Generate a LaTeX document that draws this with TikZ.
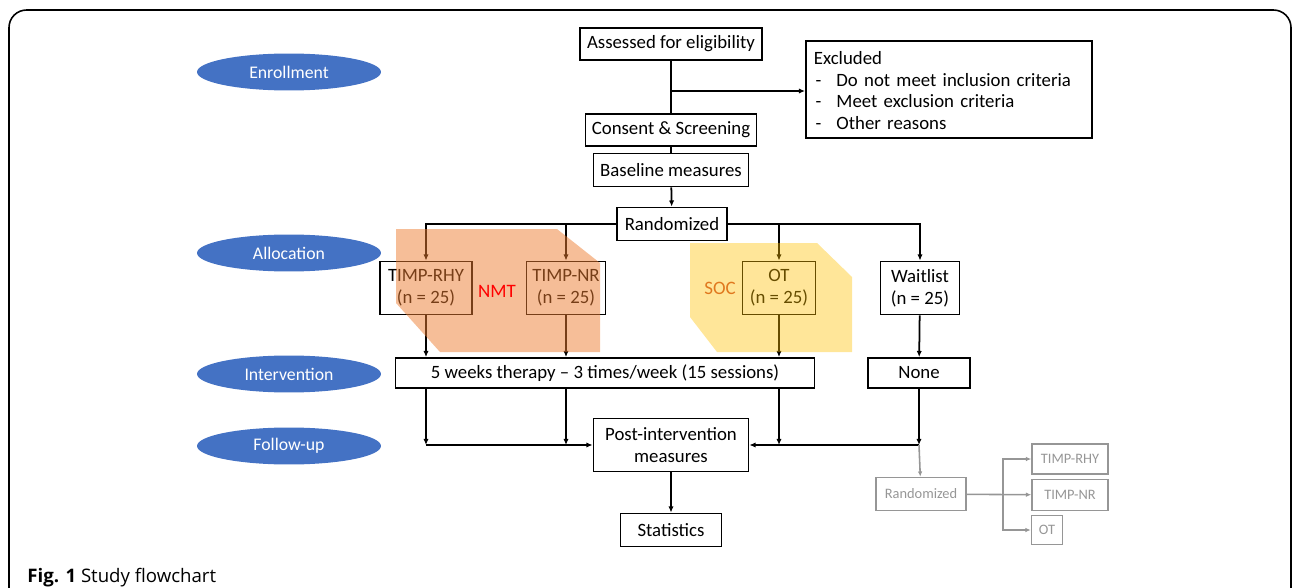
\documentclass[tikz,border=0pt]{standalone}
\usepackage{fontspec}
\setmainfont{Carlito}
\newfontfamily\capfont{Open Sans}
\usetikzlibrary{arrows.meta,shapes.geometric}

\definecolor{stageblue}{RGB}{68,114,196}
\definecolor{nmtorange}{RGB}{237,125,49}
\definecolor{socyellow}{RGB}{255,192,0}
\definecolor{soctext}{RGB}{224,120,30}
\definecolor{ghost}{RGB}{150,150,150}

\tikzset{
    box/.style={draw, line width=1pt, fill=white, inner sep=1pt, align=center,
        font=\fontsize{10.7}{12.5}\selectfont},
    stage/.style={ellipse, fill=stageblue, text=white, inner sep=0pt,
        minimum width=3.68cm, minimum height=0.74cm, font=\fontsize{10.1}{12}\selectfont},
    flow/.style={line width=1pt, -{Latex[length=3.5pt,width=3pt]}},
    link/.style={line width=1pt},
    ghostbox/.style={draw=ghost, text=ghost, line width=0.9pt, inner sep=1pt,
        font=\fontsize{8.2}{9.5}\selectfont},
    ghostflow/.style={draw=ghost, line width=0.9pt, -{Latex[length=3pt,width=2.6pt]}},
}

\begin{document}
\begin{tikzpicture}[x=0.02cm, y=-0.02cm]
    \useasboundingbox (0,0) rectangle (1292,588);

    % Outer frame of the figure
    \draw[line width=0.9pt, rounded corners=10pt] (9,600) -- (9,10) -- (1291,10) -- (1291,600);

    % Stages on the left
    \node[stage] (enroll) at (289,72) {Enrollment};
    \node[stage] (alloc) at (289,253) {Allocation};
    \node[stage] (interv) at (289,374) {Intervention};
    \node[stage] (follow) at (289,446) {Follow-up};

    % Enrollment
    \node[box, minimum width=3.64cm, minimum height=0.64cm] (assess) at (671,44) {Assessed for eligibility};
    \node[box, text width=5.40cm, minimum height=1.94cm, anchor=north west, align=left,
        inner xsep=0.16cm] (excl) at (805,40)
        {\begin{tabular}{@{\hspace{1pt}}l@{\hspace{0.8em}}l@{}}
            \multicolumn{2}{@{}l}{\rule{0pt}{12.2pt}Excluded}\\
            - & Do not meet inclusion criteria\\
            - & Meet exclusion criteria\\
            - & Other reasons
        \end{tabular}};
    \node[box, minimum width=3.42cm, minimum height=0.64cm] (consent) at (671,130) {Consent \& Screening};
    \node[box, minimum width=3.10cm, minimum height=0.66cm] (base) at (671,170) {Baseline measures};

    % Allocation
    \node[box, minimum width=2.20cm, minimum height=0.66cm] (rand) at (672,224) {Randomized};
    \node[box, minimum width=1.84cm, minimum height=1.06cm] (rhy) at (426,288) {TIMP-RHY\\(n = 25)};
    \node[box, minimum width=1.58cm, minimum height=1.06cm] (nr) at (566,288) {TIMP-NR\\(n = 25)};
    \node[box, minimum width=1.46cm, minimum height=1.06cm] (ot) at (779,288) {OT\\(n = 25)};
    \node[box, minimum width=1.58cm, minimum height=1.06cm] (wait) at (920,288) {Waitlist\\(n = 25)};

    % Intervention
    \node[box, minimum width=8.38cm, minimum height=0.60cm] (ther) at (605,373) {5 weeks therapy -- 3 times/week (15 sessions)};
    \node[box, minimum width=2.04cm, minimum height=0.60cm] (none) at (919,373) {None};

    % Follow-up
    \node[box, minimum width=3.10cm, minimum height=1.06cm] (post) at (671,445) {Post-intervention\\measures};
    \node[box, minimum width=2.02cm, minimum height=0.66cm] (stats) at (671,530) {Statistics};

    % Waitlist crossing over
    \node[ghostbox, minimum width=1.80cm, minimum height=0.66cm] (grand) at (921,494) {Randomized};
    \node[ghostbox, minimum width=1.52cm, minimum height=0.60cm] (grhy) at (1070,459) {TIMP-RHY};
    \node[ghostbox, minimum width=1.52cm, minimum height=0.62cm] (gnr) at (1070,495) {TIMP-NR};
    \node[ghostbox, minimum width=0.62cm, minimum height=0.58cm] (got) at (1047,530) {OT};

    % Enrollment connectors
    \coordinate (exclsplit) at (671,91);
    \draw[link] (assess) -- (consent);
    \draw[flow] (exclsplit) -- (exclsplit -| excl.west);
    \draw[link] (consent) -- (base);
    \draw[flow] (base) -- (rand);

    % Randomized to the four groups
    \draw[flow] (rand.west) -| (rhy.north);
    \draw[flow] (rand.west) -| (nr.north);
    \draw[flow] (rand.east) -| (ot.north);
    \draw[flow] (rand.east) -| (wait.north);

    % Groups to intervention
    \draw[flow] (rhy.south) -- (rhy.south |- ther.north);
    \draw[flow] (nr.south) -- (nr.south |- ther.north);
    \draw[flow] (ot.south) -- (ot.south |- ther.north);
    \draw[flow] (wait) -- (none);

    % Intervention to follow-up
    \draw[flow] (ther.south -| rhy) -- (rhy |- post.west);
    \draw[flow] (ther.south -| nr) -- (nr |- post.west);
    \draw[flow] (rhy |- post.west) -- (post.west);
    \draw[flow] (ther.south -| ot) -- (ot |- post.east);
    \draw[flow] (none) -- (none |- post.east);
    \draw[flow] (none |- post.east) -- (post.east);
    \draw[flow] (post) -- (stats);

    % Waitlist randomized after follow-up (gray)
    \coordinate (gsplit) at (1003,494);
    \draw[ghostflow] (none |- post.east) -- (grand);
    \draw[ghostflow] (grand) -- (gnr);
    \draw[ghostflow] (gsplit) |- (grhy);
    \draw[ghostflow] (gsplit) |- (got);

    % Shaded groups NMT and SOC
    \fill[nmtorange, fill opacity=0.5] (396,229) -- (557,229) -- (600,263) -- (600,352)
        -- (440,352) -- (396,303) -- cycle;
    \fill[socyellow, fill opacity=0.4] (690,243) -- (817,243) -- (852,277) -- (852,352)
        -- (717,352) -- (690,317) -- cycle;
    \node[text=red, font=\fontsize{10.8}{12}\selectfont] (nmt) at (497,291) {NMT};
    \node[text=soctext, font=\fontsize{10.8}{12}\selectfont] (soc) at (720,288) {SOC};

    % Caption
    \node[anchor=base west, inner sep=0pt, font=\capfont\fontsize{10.6}{12}\selectfont] (cap) at (27,582)
        {\textbf{Fig. 1} Study flowchart};
\end{tikzpicture}
\end{document}
